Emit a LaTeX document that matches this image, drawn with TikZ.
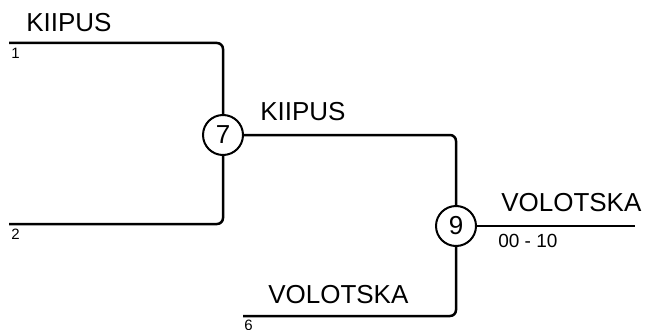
\documentclass[tikz,border=0pt]{standalone}
\usepackage{fontspec}
\setmainfont{Liberation Sans}
\usetikzlibrary{positioning}

\begin{document}
\begin{tikzpicture}[x=1pt,y=-1pt,line width=2.5pt,
    match/.style={draw, circle, line width=2pt, minimum size=40pt, inner sep=0pt, font=\fontsize{26}{26}\selectfont},
    team/.style={inner sep=0pt, font=\fontsize{26}{26}\selectfont},
    seed/.style={inner sep=0pt, font=\fontsize{15}{15}\selectfont},
    score/.style={inner sep=0pt, font=\fontsize{19}{19}\selectfont},
    link/.style={rounded corners=6pt}]
      \useasboundingbox (0,0) rectangle (647,329);

      % Matches
      \node[match] (m7) at (223,135) {7};
      \node[match] (m9) at (456,226) {9};

      % Line ends
      \coordinate (s1) at (9,43);
      \coordinate (s2) at (9,224);
      \coordinate (s6) at (243,316);
      \coordinate (w9) at (635,226);

      % Connections
      \draw[link] (s1) -| (m7);
      \draw[link] (s2) -| (m7);
      \draw[link] (m7) -| (m9);
      \draw[link] (s6) -| (m9);
      \draw (m9) -- (w9);

      % Team names and seeds
      \node[team, above right=10pt and 16pt of s1] (t1) {KIIPUS};
      \node[seed, below right=4pt and 1pt of s1] (n1) {1};
      \node[seed, below right=4pt and 1pt of s2] (n2) {2};
      \node[team, above right=13pt and 15pt of m7.east] (t7) {KIIPUS};
      \node[team, above right=11pt and 24pt of s6] (t6) {VOLOTSKA};
      \node[seed, below right=3pt and 0pt of s6] (n6) {6};
      \node[team, above right=13pt and 23pt of m9.east] (t9) {VOLOTSKA};
      \node[score, below right=7pt and 20pt of m9.east] (r9) {00 - 10};
\end{tikzpicture}
\end{document}
